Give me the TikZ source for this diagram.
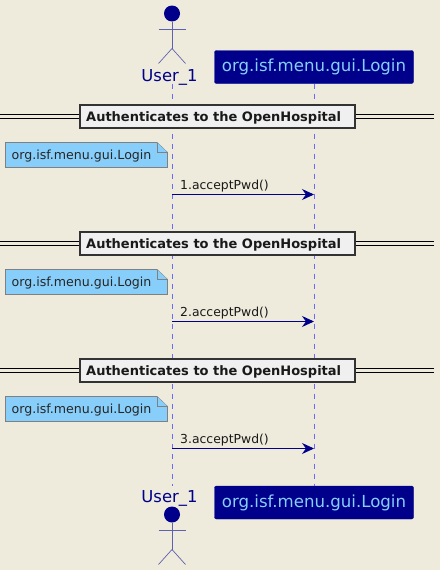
\documentclass[tikz,border=0pt]{standalone}
\usepackage{fontspec}
\setmainfont{DejaVu Sans}
\usetikzlibrary{arrows.meta}
\definecolor{bgc}{HTML}{EEEBDC}
\definecolor{navyc}{HTML}{00008B}
\definecolor{lifec}{HTML}{6A6AFF}
\definecolor{headc}{HTML}{87CEFA}
\definecolor{actc}{HTML}{6060B0}
\tikzset{
  lifeline/.style={draw=lifec,line width=0.9pt,dash pattern=on 5pt off 5pt},
  partbox/.style={fill=navyc,rounded corners=2pt,draw=navyc,minimum width=199pt,minimum height=33pt,inner sep=0pt,text=headc,font=\fontsize{16.6}{20}\selectfont},
  actlabel/.style={text=navyc,inner sep=0pt,font=\fontsize{16.4}{19}\selectfont},
  actline/.style={draw=actc,line width=0.7pt},
  divbox/.style={draw=black!80,line width=2pt,fill=black!6,minimum width=275pt,minimum height=23pt,inner sep=0pt},
  divtext/.style={inner sep=0pt,anchor=base west,text=black!90,font=\bfseries\fontsize{13}{15}\selectfont},
  divline/.style={draw=black,line width=0.9pt},
  notetext/.style={inner sep=0pt,text=black!85,font=\fontsize{12.6}{15}\selectfont},
  notefold/.style={fill=headc,draw=black!50,line width=0.8pt},
  msg/.style={draw=navyc,line width=0.9pt,-{Stealth[length=12pt,width=11pt,inset=4pt]}},
  msglabel/.style={inner sep=0pt,anchor=base west,text=black!90,font=\fontsize{12.4}{15}\selectfont},
}
\newcommand{\actorfig}[2]{% x, y of head centre
  \fill[navyc] (#1,#2) circle (8);
  \draw[actline] (#1,#2+8) -- (#1,#2+35);
  \draw[actline] (#1-13.5,#2+16) -- (#1+13.5,#2+16);
  \draw[actline] (#1-13.5,#2+50) -- (#1,#2+35) -- (#1+13.5,#2+50);
}
\newcommand{\stage}[2]{% y-centre of divider, number
  \coordinate (dl#2) at (0,#1);
  \coordinate (dr#2) at (434,#1);
  \draw[divline] ([yshift=1.7pt]dl#2) -- ([yshift=1.7pt]dr#2);
  \draw[divline] ([yshift=-1.7pt]dl#2) -- ([yshift=-1.7pt]dr#2);
  \node[divbox] (div#2) at (217,#1) {};
  \node[divtext] (dt#2) at (86,#1+4.5) {Authenticates to the OpenHospital};
  \draw[notefold] (5.5,#1+26) -- (157,#1+26) -- (167.5,#1+36) -- (167.5,#1+51) -- (5.5,#1+51) -- cycle;
  \draw[notefold] (157,#1+26) -- (157,#1+36) -- (167.5,#1+36);
  \node[notetext,anchor=base west] (note#2) at (11.5,#1+43) {org.isf.menu.gui.Login};
  \coordinate (from#2) at (172,#1+78);
  \coordinate (to#2) at (314,#1+78);
  \node[msglabel] (lab#2) at (180,#1+73) {#2.acceptPwd()};
  \draw[msg] (from#2) -- (to#2);
}
\begin{document}
\begin{tikzpicture}[x=1pt,y=-1pt]
\useasboundingbox (0,0) rectangle (440,570);
\fill[bgc] (0,0) rectangle (440,570);
\node[partbox] (login) at (314,67) {org.isf.menu.gui.Login};
\node[partbox] (loginb) at (314,502.5) {org.isf.menu.gui.Login};
\node[actlabel,anchor=base] (user) at (169.5,81) {User\_1};
\node[actlabel,anchor=base] (userb) at (169.5,502) {User\_1};
\actorfig{172}{13.5}
\actorfig{172}{514.5}
\coordinate (ut) at (172,84);
\coordinate (ub) at (172,486);
\draw[lifeline] (ut) -- (ub);
\draw[lifeline] (login.south) -- (loginb.north);
\stage{116.5}{1}
\stage{243.5}{2}
\stage{370.5}{3}
\end{tikzpicture}
\end{document}
